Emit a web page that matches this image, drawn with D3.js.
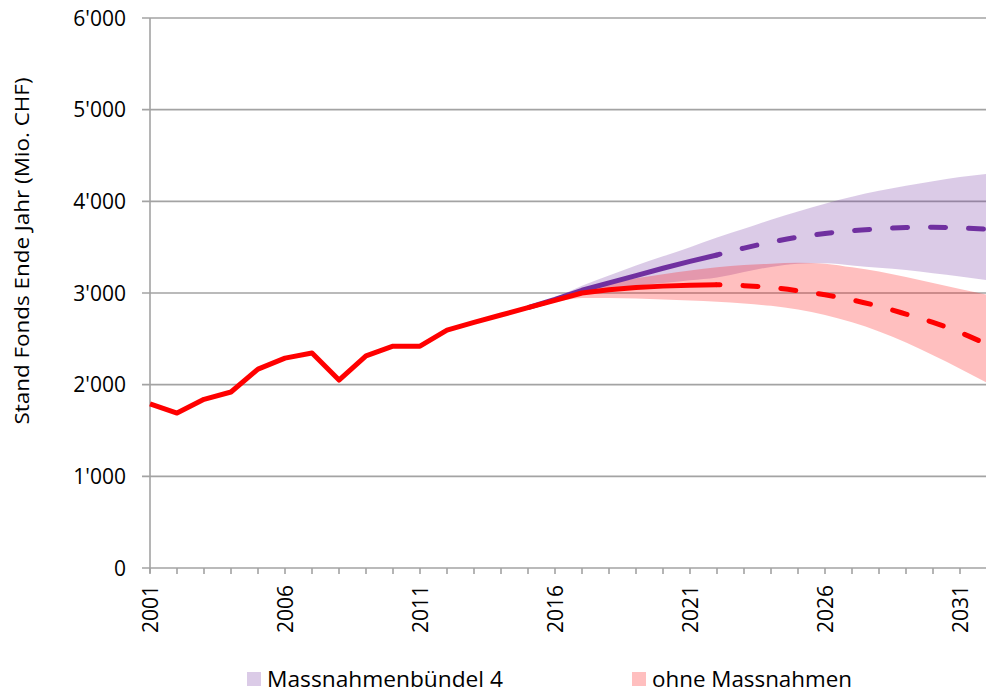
<!DOCTYPE html>
<html><head><meta charset="utf-8">
<script src="https://cdn.jsdelivr.net/npm/d3@7"></script>
<style>
html,body{margin:0;padding:0;background:#fff;}
text{font-family:"Open Sans",sans-serif;fill:#000;}
</style></head>
<body>
<svg id="chart" width="986" height="697"></svg>
<script>
// ---- data ----
const histYears = d3.range(2001, 2023);
const redSolid = [1790,1690,1840,1920,2170,2290,2345,2050,2315,2420,2420,2595,2680,2760,2840,2920,3000,3035,3060,3075,3085,3090];
const projYears = d3.range(2022, 2033);
const redDashed = [3090,3080,3060,3025,2980,2925,2855,2770,2680,2570,2440];
const purpleSolidYears = d3.range(2015, 2023);
const purpleSolid = [2840,2930,3030,3110,3190,3270,3345,3415];
const purpleDashed = [3415,3490,3555,3610,3650,3680,3700,3715,3718,3710,3695];
const bandYears = d3.range(2015, 2033);
const purpleUpper = [2840,2950,3080,3190,3300,3400,3500,3605,3700,3800,3890,3975,4050,4115,4170,4220,4265,4300];
const purpleLower = [2840,2910,2990,3040,3080,3110,3140,3170,3230,3285,3320,3325,3300,3275,3250,3215,3180,3140];
const redUpper    = [2840,2930,3030,3100,3160,3205,3245,3280,3305,3320,3330,3320,3280,3235,3175,3110,3045,2980];
const redLower    = [2840,2900,2945,2945,2940,2930,2918,2905,2885,2860,2820,2760,2680,2580,2460,2320,2175,2020];
const yTicks = [0,1000,2000,3000,4000,5000,6000];
const xLabelYears = [2001,2006,2011,2016,2021,2026,2031];
const legendItems = ["Massnahmenbündel 4","ohne Massnahmen"];
const yTitle = "Stand Fonds Ende Jahr (Mio. CHF)";

// ---- scales ----
const svg = d3.select("#chart");
const x = d3.scaleLinear().domain([2001, 2032]).range([150, 987]);
const y = d3.scaleLinear().domain([0, 6000]).range([568, 18]);
const gridCol = "#a3a3a3";
const purple = "#7030a0", red = "#ff0000";

// gridlines
svg.append("g").selectAll("line").data(yTicks).join("line")
  .attr("x1", 142).attr("x2", 986)
  .attr("y1", d => y(d)).attr("y2", d => y(d))
  .attr("stroke", gridCol).attr("stroke-width", 1.6);
// y axis line
svg.append("line").attr("x1", 150).attr("x2", 150).attr("y1", y(6000)).attr("y2", 573)
  .attr("stroke", gridCol).attr("stroke-width", 1.6);
// x minor ticks
svg.append("g").selectAll("line").data(d3.range(2001, 2033)).join("line")
  .attr("x1", d => x(d)).attr("x2", d => x(d)).attr("y1", 568).attr("y2", 574)
  .attr("stroke", gridCol).attr("stroke-width", 1.6);

// y labels
svg.append("g").selectAll("text").data(yTicks).join("text")
  .attr("x", 126).attr("y", d => y(d)).attr("dy", "0.36em")
  .attr("text-anchor", "end").attr("font-size", 21)
  .text(d => d === 0 ? "0" : d3.format(",")(d).replace(/,/g, "'"));
// x labels
svg.append("g").selectAll("text").data(xLabelYears).join("text")
  .attr("transform", d => `translate(${x(d)},585) rotate(-90)`)
  .attr("dy", "0.36em").attr("text-anchor", "end").attr("font-size", 21)
  .text(d => d);
// y title
svg.append("text").attr("transform", "translate(22,251) rotate(-90)")
  .attr("dy", "0.36em").attr("text-anchor", "middle").attr("font-size", 20)
  .attr("textLength", 347).attr("lengthAdjust", "spacingAndGlyphs")
  .text(yTitle);

// bands
const area = (up, lo) => d3.area().x((d, i) => x(bandYears[i])).y0((d, i) => y(lo[i])).y1((d, i) => y(up[i])).curve(d3.curveMonotoneX)(bandYears);
svg.append("path").attr("d", area(purpleUpper, purpleLower)).attr("fill", purple).attr("fill-opacity", 0.25);
svg.append("path").attr("d", area(redUpper, redLower)).attr("fill", red).attr("fill-opacity", 0.25);

// lines
const line = (yrs, vals, curve) => d3.line().x((d, i) => x(yrs[i])).y((d, i) => y(vals[i])).curve(curve)(vals);
const lw = 5;
svg.append("path").attr("d", line(purpleSolidYears, purpleSolid, d3.curveLinear))
  .attr("fill", "none").attr("stroke", purple).attr("stroke-width", lw).attr("stroke-linejoin", "round");
svg.append("path").attr("d", line(projYears, purpleDashed, d3.curveMonotoneX))
  .attr("fill", "none").attr("stroke", purple).attr("stroke-width", lw)
  .attr("stroke-dasharray", "15,23").attr("stroke-linecap", "round").attr("stroke-dashoffset", 12);
svg.append("path").attr("d", line(histYears, redSolid, d3.curveLinear))
  .attr("fill", "none").attr("stroke", red).attr("stroke-width", lw).attr("stroke-linejoin", "round");
svg.append("path").attr("d", line(projYears, redDashed, d3.curveMonotoneX))
  .attr("fill", "none").attr("stroke", red).attr("stroke-width", lw)
  .attr("stroke-dasharray", "15,23").attr("stroke-linecap", "round").attr("stroke-dashoffset", 12);

// legend
const legX = [247, 632];
const legLen = [236, 200];
const legCols = [purple, red];
const lg = svg.append("g").selectAll("g").data(legendItems).join("g")
  .attr("transform", (d, i) => `translate(${legX[i]},672)`);
lg.append("rect").attr("width", 14).attr("height", 14)
  .attr("fill", (d, i) => legCols[i]).attr("fill-opacity", 0.25);
lg.append("text").attr("x", 20).attr("y", 7).attr("dy", "0.36em").attr("font-size", 21)
  .attr("textLength", (d, i) => legLen[i]).attr("lengthAdjust", "spacingAndGlyphs")
  .text(d => d);
</script>
</body></html>
